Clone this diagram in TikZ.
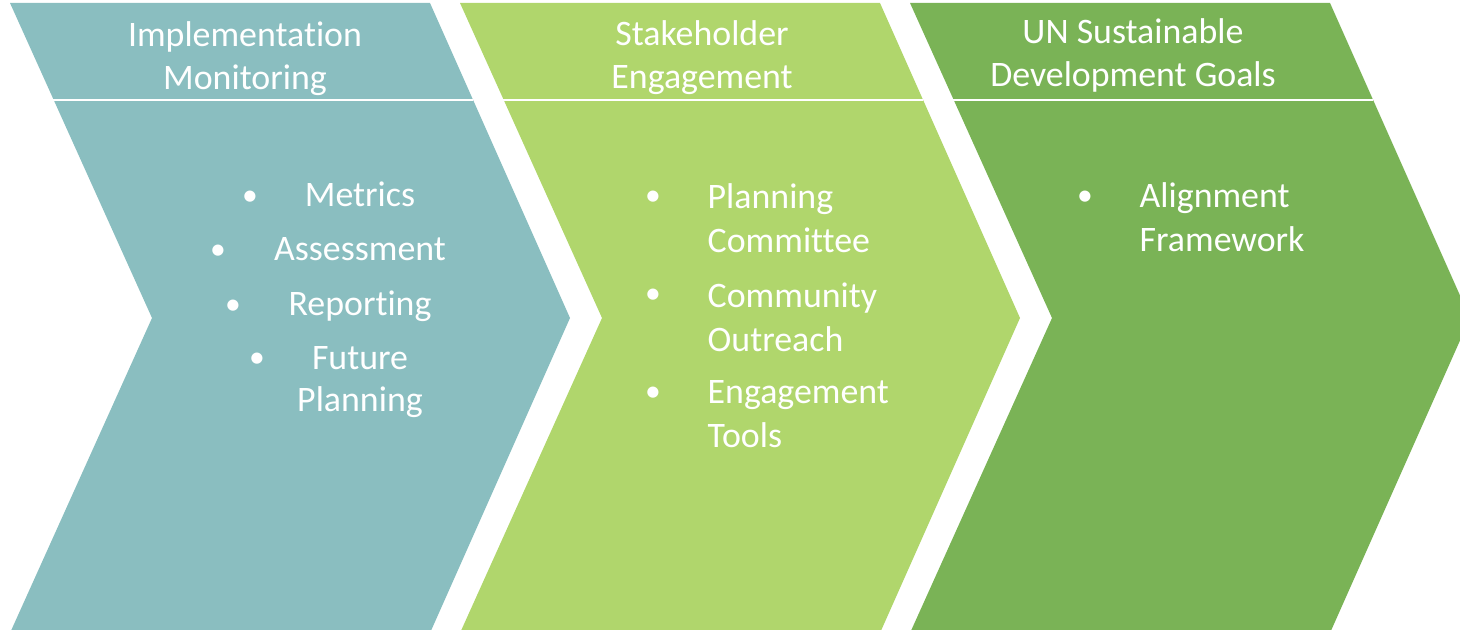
\documentclass[tikz,border=0pt]{standalone}
\usepackage{fontspec}
\setmainfont{Carlito}[Ligatures=NoCommon]
\usepackage{xcolor}
\usepackage{tikz}

\definecolor{monteal}{HTML}{8ABEC0}
\definecolor{stakegreen}{HTML}{B0D66C}
\definecolor{sdggreen}{HTML}{7AB356}

\begin{document}
\begin{tikzpicture}[x=0.1mm,y=-0.1mm]
			\tikzstyle{heading} = [text=white, align=center, anchor=base, inner sep=0pt, font=\fontsize{10.2}{12.5}\selectfont]
			\tikzstyle{entry} = [text=white, align=left, anchor=base west, inner sep=0pt, font=\fontsize{10.2}{12.8}\selectfont]
			\tikzstyle{centry} = [entry, align=center, anchor=base, font=\fontsize{10.2}{12.2}\selectfont]
			\tikzstyle{dot} = [text=white, anchor=base, inner sep=0pt, font=\fontsize{9}{12.8}\selectfont]
			\tikzset{divider/.style = {draw=white, line width=0.6pt}}
			
			\useasboundingbox (0,0) rectangle (1460,630);
			\clip (0,0) rectangle (1460,630);
			
			% chevrons
			\fill[monteal] (10,3) -- (430,3) -- (570,318) -- (430,633) -- (10,633) -- (152,318) -- cycle;
			\fill[stakegreen] (460,3) -- (880,3) -- (1020,318) -- (880,633) -- (460,633) -- (602,318) -- cycle;
			\fill[sdggreen] (910,3) -- (1330,3) -- (1470,318) -- (1330,633) -- (910,633) -- (1052,318) -- cycle;
			\draw[divider] (53,100) -- (473,100);
			\draw[divider] (503,100) -- (923,100);
			\draw[divider] (953,100) -- (1373,100);
			
			% base anchor sits on the last line
			\node[heading](head1) at (245,90) {Implementation\\Monitoring};
			\node[heading](head2) at (702,89) {Stakeholder\\Engagement};
			\node[heading](head3) at (1133,87) {UN Sustainable\\Development Goals};
			
			\node[centry](metrics) at (360,207) {Metrics};
			\node[centry](assess) at (360,261) {Assessment};
			\node[centry](report) at (360,316) {Reporting};
			\node[centry](future) at (360,412) {Future\\Planning};
			\node[dot](dot1) at (250,206) {\textbullet};
			\node[dot](dot2) at (218,260) {\textbullet};
			\node[dot](dot3) at (233,315) {\textbullet};
			\node[dot](dot4) at (257,368) {\textbullet};
			
			\node[entry](planning) at (707,253) {Planning\\Committee};
			\node[entry](community) at (707,352) {Community\\Outreach};
			\node[entry](tools) at (707,448) {Engagement\\Tools};
			\node[dot](dot5) at (653,206) {\textbullet};
			\node[dot](dot6) at (653,304) {\textbullet};
			\node[dot](dot7) at (653,402) {\textbullet};
			
			\node[entry](framework) at (1139,252) {Alignment\\Framework};
			\node[dot](dot8) at (1085,206) {\textbullet};
			
\end{tikzpicture}
\end{document}
